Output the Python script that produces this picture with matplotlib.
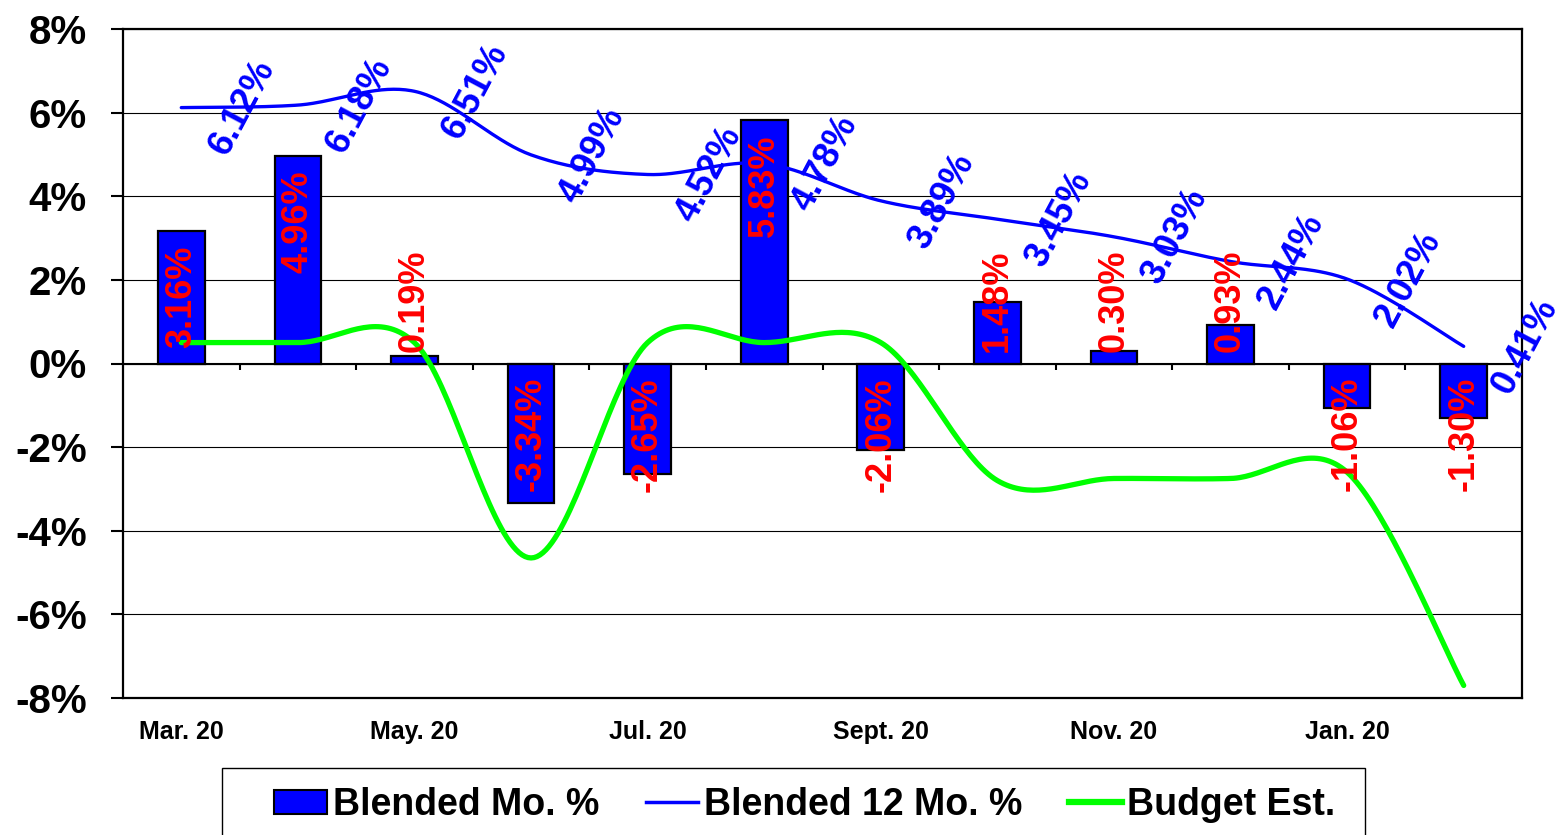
import matplotlib
matplotlib.use('Agg')
import matplotlib.pyplot as plt
from matplotlib.ticker import MultipleLocator, FuncFormatter
from matplotlib.patches import Patch, Rectangle
from matplotlib.lines import Line2D
import numpy as np

plt.rcParams['font.family'] = ['Liberation Sans', 'DejaVu Sans']
plt.rcParams['font.weight'] = 'bold'
plt.rcParams['axes.unicode_minus'] = False

# Data (percent)
months = ['Mar. 20', 'Apr. 20', 'May. 20', 'Jun. 20', 'Jul. 20', 'Aug. 20',
          'Sept. 20', 'Oct. 20', 'Nov. 20', 'Dec. 20', 'Jan. 20', 'Feb. 20']
blended_mo = [3.16, 4.96, 0.19, -3.34, -2.65, 5.83, -2.06, 1.48, 0.30, 0.93, -1.06, -1.30]
blended_12mo = [6.12, 6.18, 6.51, 4.99, 4.52, 4.78, 3.89, 3.45, 3.03, 2.44, 2.02, 0.41]
budget_est = [0.5, 0.5, 0.5, -4.65, 0.5, 0.5, 0.5, -2.8, -2.75, -2.75, -2.6, -7.7]


def smooth_line(xs, ys, n=40):
    # Excel-style smoothed line: cubic bezier through each point (catmull-rom tangents)
    pts = np.column_stack([xs, ys]).astype(float)
    out = []
    for i in range(len(pts) - 1):
        p0 = pts[i - 1] if i > 0 else pts[i]
        p1 = pts[i]
        p2 = pts[i + 1]
        p3 = pts[i + 2] if i + 2 < len(pts) else pts[i + 1]
        c1 = p1 + (p2 - p0) / 6.0
        c2 = p2 - (p3 - p1) / 6.0
        t = np.linspace(0, 1, n)[:, None]
        seg = (1 - t) ** 3 * p1 + 3 * (1 - t) ** 2 * t * c1 + 3 * (1 - t) * t ** 2 * c2 + t ** 3 * p2
        out.append(seg if i == 0 else seg[1:])
    return np.vstack(out)


W, H = 1555, 835
fig = plt.figure(figsize=(W / 100, H / 100), dpi=100)
ax = fig.add_axes([123 / W, 1 - 698 / H, (1522 - 123) / W, (698 - 29) / H])

x = np.arange(len(months))

# grid
ax.set_axisbelow(True)
ax.yaxis.grid(True, color='black', linewidth=0.8, zorder=0)

# bars
ax.bar(x, blended_mo, width=0.4, color='#0000FF', edgecolor='black', linewidth=1.6, zorder=2)

# zero axis with category tick marks
ax.axhline(0, color='black', linewidth=1.5, zorder=2.5)
ax.vlines(x[:-1] + 0.5, 0, -0.15, color='black', linewidth=1.5, zorder=2.5)

# lines
b12 = smooth_line(x, blended_12mo)
ax.plot(b12[:, 0], b12[:, 1], color='#0000FF', linewidth=2.4, zorder=3, solid_capstyle='round')
bud = smooth_line(x, budget_est)
ax.plot(bud[:, 0], bud[:, 1], color='#00FF00', linewidth=3.8, zorder=3, solid_capstyle='round')

# bar labels (red, vertical)
for i, v in enumerate(blended_mo):
    if v >= 0:
        top = max(v - 0.35, 2.72)
    else:
        top = -0.32
    ax.text(i, top, f'{v:.2f}%', rotation=90, ha='center', va='top',
            color='#FF0000', fontsize=26, fontweight='bold', zorder=5)

# 12-month labels (blue, slanted)
for i, v in enumerate(blended_12mo):
    ax.annotate(f'{v:.2f}%', xy=(i, v), xytext=(44, 0), textcoords='offset points',
                rotation=62, rotation_mode='anchor', ha='center', va='center',
                color='#0000FF', fontsize=26, fontweight='bold', zorder=5,
                annotation_clip=False)

ax.set_xlim(-0.5, len(months) - 0.5)
ax.set_ylim(-8, 8)
ax.yaxis.set_major_locator(MultipleLocator(2))
ax.yaxis.set_major_formatter(FuncFormatter(lambda v, p: f'{v:.0f}%'))
ax.tick_params(axis='y', direction='out', length=9, width=1.5, pad=17, labelsize=29)

ax.set_xticks(x[::2])
ax.set_xticklabels(months[::2], fontsize=18, fontweight='bold')
ax.tick_params(axis='x', length=0, pad=16)

for s in ax.spines.values():
    s.set_linewidth(1.6)
    s.set_color('black')

# legend below the plot, frame drawn as a box that runs off the bottom edge
handles = [Patch(facecolor='#0000FF', edgecolor='black', linewidth=1.5),
           Line2D([], [], color='#0000FF', linewidth=2.5),
           Line2D([], [], color='#00FF00', linewidth=4.5)]
labels = ['Blended Mo. %', 'Blended 12 Mo. %', 'Budget Est.']
leg = ax.legend(handles, labels, loc='center', bbox_to_anchor=(805 / W, 1 - 805 / H),
                bbox_transform=fig.transFigure, ncol=3, frameon=False,
                prop={'size': 27, 'weight': 'bold'},
                handlelength=1.4, handleheight=0.6, handletextpad=0.15,
                columnspacing=1.25, borderpad=0.3, borderaxespad=0)
fig.patches.append(Rectangle((222 / W, -0.02), (1365 - 222) / W, 0.02 + 1 - 768 / H,
                             transform=fig.transFigure, fill=False,
                             edgecolor='black', linewidth=1.0))

fig.savefig('out.png', dpi=100)
